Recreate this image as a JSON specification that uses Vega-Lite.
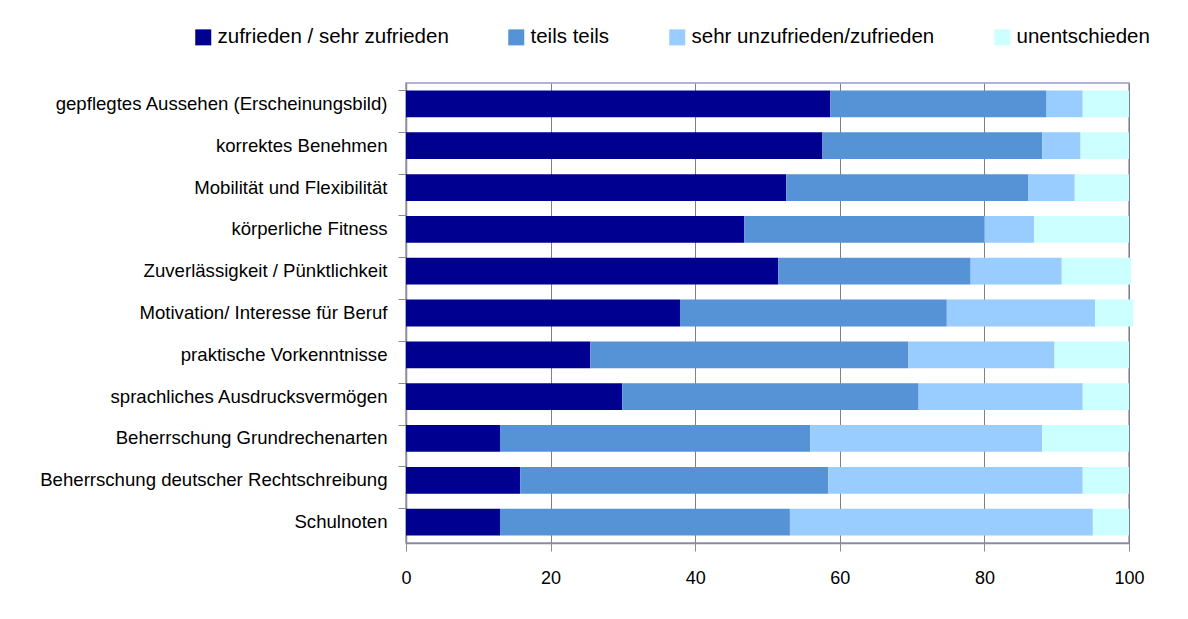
{
  "$schema": "https://vega.github.io/schema/vega-lite/v6.json",
  "autosize": "none",
  "width": 723,
  "height": 460,
  "padding": {"left": 406, "top": 83, "right": 59, "bottom": 76},
  "background": "white",
  "data": {"values": [
    {"item": "gepflegtes Aussehen (Erscheinungsbild)", "rating": "zufrieden / sehr zufrieden", "value": 58.7},
    {"item": "gepflegtes Aussehen (Erscheinungsbild)", "rating": "teils teils", "value": 29.9},
    {"item": "gepflegtes Aussehen (Erscheinungsbild)", "rating": "sehr unzufrieden/zufrieden", "value": 5.0},
    {"item": "gepflegtes Aussehen (Erscheinungsbild)", "rating": "unentschieden", "value": 6.4},
    {"item": "korrektes Benehmen", "rating": "zufrieden / sehr zufrieden", "value": 57.6},
    {"item": "korrektes Benehmen", "rating": "teils teils", "value": 30.4},
    {"item": "korrektes Benehmen", "rating": "sehr unzufrieden/zufrieden", "value": 5.3},
    {"item": "korrektes Benehmen", "rating": "unentschieden", "value": 6.7},
    {"item": "Mobilität und Flexibilität", "rating": "zufrieden / sehr zufrieden", "value": 52.6},
    {"item": "Mobilität und Flexibilität", "rating": "teils teils", "value": 33.5},
    {"item": "Mobilität und Flexibilität", "rating": "sehr unzufrieden/zufrieden", "value": 6.4},
    {"item": "Mobilität und Flexibilität", "rating": "unentschieden", "value": 7.5},
    {"item": "körperliche Fitness", "rating": "zufrieden / sehr zufrieden", "value": 46.8},
    {"item": "körperliche Fitness", "rating": "teils teils", "value": 33.2},
    {"item": "körperliche Fitness", "rating": "sehr unzufrieden/zufrieden", "value": 6.9},
    {"item": "körperliche Fitness", "rating": "unentschieden", "value": 13.1},
    {"item": "Zuverlässigkeit / Pünktlichkeit", "rating": "zufrieden / sehr zufrieden", "value": 51.5},
    {"item": "Zuverlässigkeit / Pünktlichkeit", "rating": "teils teils", "value": 26.6},
    {"item": "Zuverlässigkeit / Pünktlichkeit", "rating": "sehr unzufrieden/zufrieden", "value": 12.6},
    {"item": "Zuverlässigkeit / Pünktlichkeit", "rating": "unentschieden", "value": 9.6},
    {"item": "Motivation/ Interesse für Beruf", "rating": "zufrieden / sehr zufrieden", "value": 37.9},
    {"item": "Motivation/ Interesse für Beruf", "rating": "teils teils", "value": 36.9},
    {"item": "Motivation/ Interesse für Beruf", "rating": "sehr unzufrieden/zufrieden", "value": 20.5},
    {"item": "Motivation/ Interesse für Beruf", "rating": "unentschieden", "value": 5.3},
    {"item": "praktische Vorkenntnisse", "rating": "zufrieden / sehr zufrieden", "value": 25.5},
    {"item": "praktische Vorkenntnisse", "rating": "teils teils", "value": 44.0},
    {"item": "praktische Vorkenntnisse", "rating": "sehr unzufrieden/zufrieden", "value": 20.2},
    {"item": "praktische Vorkenntnisse", "rating": "unentschieden", "value": 10.3},
    {"item": "sprachliches Ausdrucksvermögen", "rating": "zufrieden / sehr zufrieden", "value": 29.9},
    {"item": "sprachliches Ausdrucksvermögen", "rating": "teils teils", "value": 41.0},
    {"item": "sprachliches Ausdrucksvermögen", "rating": "sehr unzufrieden/zufrieden", "value": 22.7},
    {"item": "sprachliches Ausdrucksvermögen", "rating": "unentschieden", "value": 6.4},
    {"item": "Beherrschung Grundrechenarten", "rating": "zufrieden / sehr zufrieden", "value": 13.0},
    {"item": "Beherrschung Grundrechenarten", "rating": "teils teils", "value": 42.9},
    {"item": "Beherrschung Grundrechenarten", "rating": "sehr unzufrieden/zufrieden", "value": 32.1},
    {"item": "Beherrschung Grundrechenarten", "rating": "unentschieden", "value": 12.0},
    {"item": "Beherrschung deutscher Rechtschreibung", "rating": "zufrieden / sehr zufrieden", "value": 15.8},
    {"item": "Beherrschung deutscher Rechtschreibung", "rating": "teils teils", "value": 42.6},
    {"item": "Beherrschung deutscher Rechtschreibung", "rating": "sehr unzufrieden/zufrieden", "value": 35.2},
    {"item": "Beherrschung deutscher Rechtschreibung", "rating": "unentschieden", "value": 6.4},
    {"item": "Schulnoten ", "rating": "zufrieden / sehr zufrieden", "value": 13.0},
    {"item": "Schulnoten ", "rating": "teils teils", "value": 40.1},
    {"item": "Schulnoten ", "rating": "sehr unzufrieden/zufrieden", "value": 41.9},
    {"item": "Schulnoten ", "rating": "unentschieden", "value": 5.0}
  ]},
  "transform": [
    {
      "lookup": "rating",
      "from": {
        "data": {"values": [
          {"rating": "zufrieden / sehr zufrieden", "rank": 1},
          {"rating": "teils teils", "rank": 2},
          {"rating": "sehr unzufrieden/zufrieden", "rank": 3},
          {"rating": "unentschieden", "rank": 4}
        ]},
        "key": "rating",
        "fields": ["rank"]
      }
    }
  ],
  "mark": {"type": "bar"},
  "encoding": {
    "y": {
      "field": "item",
      "type": "nominal",
      "sort": null,
      "scale": {"paddingInner": 0.36, "paddingOuter": 0.18},
      "axis": {
        "title": null,
        "bandPosition": 0,
        "tickSize": 8,
        "tickColor": "#8a8a99",
        "domainColor": "#8a8a99",
        "domainWidth": 1.5,
        "labelPadding": 11,
        "labelFontSize": 18.6,
        "labelColor": "#000000",
        "labelFont": "Liberation Sans",
        "labelLimit": 400,
        "grid": false
      }
    },
    "x": {
      "field": "value",
      "type": "quantitative",
      "stack": "zero",
      "scale": {"domain": [0, 100], "nice": false},
      "axis": {
        "title": null,
        "values": [0, 20, 40, 60, 80, 100],
        "tickSize": 8,
        "tickColor": "#8a8a99",
        "domainColor": "#8a8a99",
        "domainWidth": 1.5,
        "labelPadding": 18,
        "labelFontSize": 18,
        "labelColor": "#000000",
        "labelFont": "Liberation Sans",
        "labelFlush": false,
        "grid": true,
        "gridColor": "#808080",
        "gridWidth": 1
      }
    },
    "color": {
      "field": "rating",
      "type": "nominal",
      "sort": ["zufrieden / sehr zufrieden", "teils teils", "sehr unzufrieden/zufrieden", "unentschieden"],
      "scale": {
        "domain": ["zufrieden / sehr zufrieden", "teils teils", "sehr unzufrieden/zufrieden", "unentschieden"],
        "range": ["#000090", "#5592D6", "#99CCFF", "#CCFFFF"]
      },
      "legend": {
        "title": null,
        "orient": "none",
        "direction": "horizontal",
        "legendX": -213,
        "legendY": -56,
        "symbolType": "square",
        "symbolSize": 256,
        "symbolStrokeWidth": 0,
        "labelFontSize": 20.5,
        "labelFont": "Liberation Sans",
        "labelColor": "#000000",
        "labelOffset": 4,
        "labelLimit": 400,
        "columnPadding": 57
      }
    },
    "order": {"field": "rank", "type": "quantitative", "sort": "ascending"}
  },
  "config": {
    "view": {"stroke": "#9999CC", "strokeWidth": 1.5},
    "bar": {"opacity": 1}
  }
}
